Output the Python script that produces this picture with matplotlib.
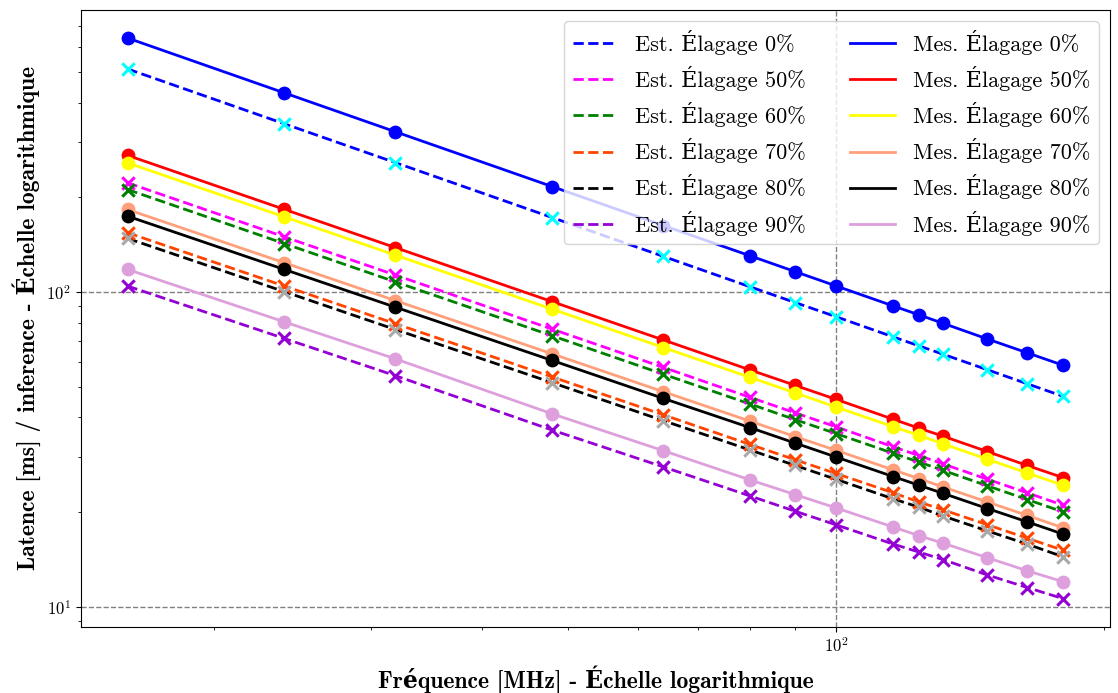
import matplotlib
matplotlib.use("Agg")
import matplotlib.pyplot as plt

plt.rcParams["font.family"] = ["cmr10", "DejaVu Serif"]
plt.rcParams["mathtext.fontset"] = "cm"
plt.rcParams["axes.formatter.use_mathtext"] = True
plt.rcParams["axes.unicode_minus"] = False

# Frequencies (MHz)
freq = [16, 24, 32, 48, 64, 80, 90, 100, 116, 124, 132, 148, 164, 180]

# Estimated latency (ms / inference) per pruning level
est_0 = [512, 342.7, 257.8, 172.5, 129.8, 104.0, 92.6, 83.5, 72.0, 67.4, 63.4, 56.6, 51.1, 46.6]
est_50 = [222.5, 149.8, 113.2, 76.2, 57.6, 46.3, 41.3, 37.3, 32.2, 30.2, 28.4, 25.4, 23.0, 21.0]
est_60 = [211.8, 142.6, 107.7, 72.6, 54.8, 44.1, 39.3, 35.5, 30.7, 28.8, 27.1, 24.2, 21.9, 20.0]
est_70 = [154.4, 104.5, 79.3, 53.7, 40.7, 32.8, 29.3, 26.5, 23.0, 21.5, 20.3, 18.2, 16.5, 15.1]
est_80 = [148.1, 100.3, 76.0, 51.5, 39.0, 31.5, 28.1, 25.4, 22.0, 20.7, 19.4, 17.4, 15.8, 14.4]
est_90 = [104.5, 71.2, 54.2, 36.4, 27.8, 22.5, 20.1, 18.2, 15.8, 14.9, 14.1, 12.6, 11.5, 10.6]

# Measured latency (ms / inference) per pruning level
mes_0 = [642, 429.7, 323.2, 216.4, 162.7, 130.5, 116.1, 104.6, 90.3, 84.6, 79.5, 70.9, 64.1, 58.5]
mes_50 = [272, 183.2, 138.4, 93.2, 70.4, 56.6, 50.5, 45.6, 39.4, 36.9, 34.8, 31.1, 28.1, 25.7]
mes_60 = [257.5, 173.4, 131.0, 88.2, 66.6, 53.6, 47.8, 43.1, 37.3, 35.0, 32.9, 29.4, 26.6, 24.3]
mes_70 = [183, 123.9, 93.9, 63.6, 48.2, 38.9, 34.7, 31.4, 27.2, 25.5, 24.0, 21.5, 19.5, 17.8]
mes_80 = [174.3, 118.0, 89.5, 60.6, 45.9, 37.1, 33.1, 29.9, 25.9, 24.3, 22.9, 20.5, 18.6, 17.0]
mes_90 = [118, 80.4, 61.3, 41.0, 31.3, 25.3, 22.7, 20.6, 17.9, 16.8, 15.9, 14.3, 13.0, 12.0]

levels = ["0", "50", "60", "70", "80", "90"]
est_series = [est_0, est_50, est_60, est_70, est_80, est_90]
mes_series = [mes_0, mes_50, mes_60, mes_70, mes_80, mes_90]

est_line_colors = ["blue", "magenta", "green", "orangered", "black", "darkviolet"]
est_marker_colors = ["cyan", "magenta", "green", "orangered", "darkgray", "darkviolet"]
mes_colors = ["blue", "red", "yellow", "lightsalmon", "black", "plum"]

fig = plt.figure(figsize=(11.18, 6.93), dpi=100)
ax = fig.add_axes([0.0722, 0.0957, 0.9206, 0.8899])

est_handles = []
mes_handles = []
for lvl, ys, lc, mc in zip(levels, est_series, est_line_colors, est_marker_colors):
    h, = ax.plot(freq, ys, "--", color=lc, lw=2, label=f"Est. Élagage {lvl}%")
    ax.scatter(freq, ys, marker="x", color=mc, s=80, linewidths=2.2, zorder=3)
    est_handles.append(h)
for lvl, ys, c in zip(levels, mes_series, mes_colors):
    h, = ax.plot(freq, ys, "-", color=c, lw=2, label=f"Mes. Élagage {lvl}%")
    ax.scatter(freq, ys, marker="o", color=c, s=80, zorder=3)
    mes_handles.append(h)

ax.set_xscale("log")
ax.set_yscale("log")
ax.grid(True, which="major", linestyle="--", color="gray", linewidth=1)

ax.tick_params(axis="both", which="major", labelsize=12)

label_font = dict(fontsize=17, family=["cmb10", "DejaVu Serif"], fontweight="bold")
ax.set_xlabel("Fréquence [MHz] - Échelle logarithmique", **label_font)
ax.xaxis.set_label_coords(0.5, -0.062)
ax.set_ylabel("Latence [ms] / inference - Échelle logarithmique", labelpad=4, **label_font)

ax.legend(handles=est_handles + mes_handles, ncol=2, loc="upper right",
          fontsize=16, framealpha=0.8)

fig.savefig("out.png", dpi=100)
